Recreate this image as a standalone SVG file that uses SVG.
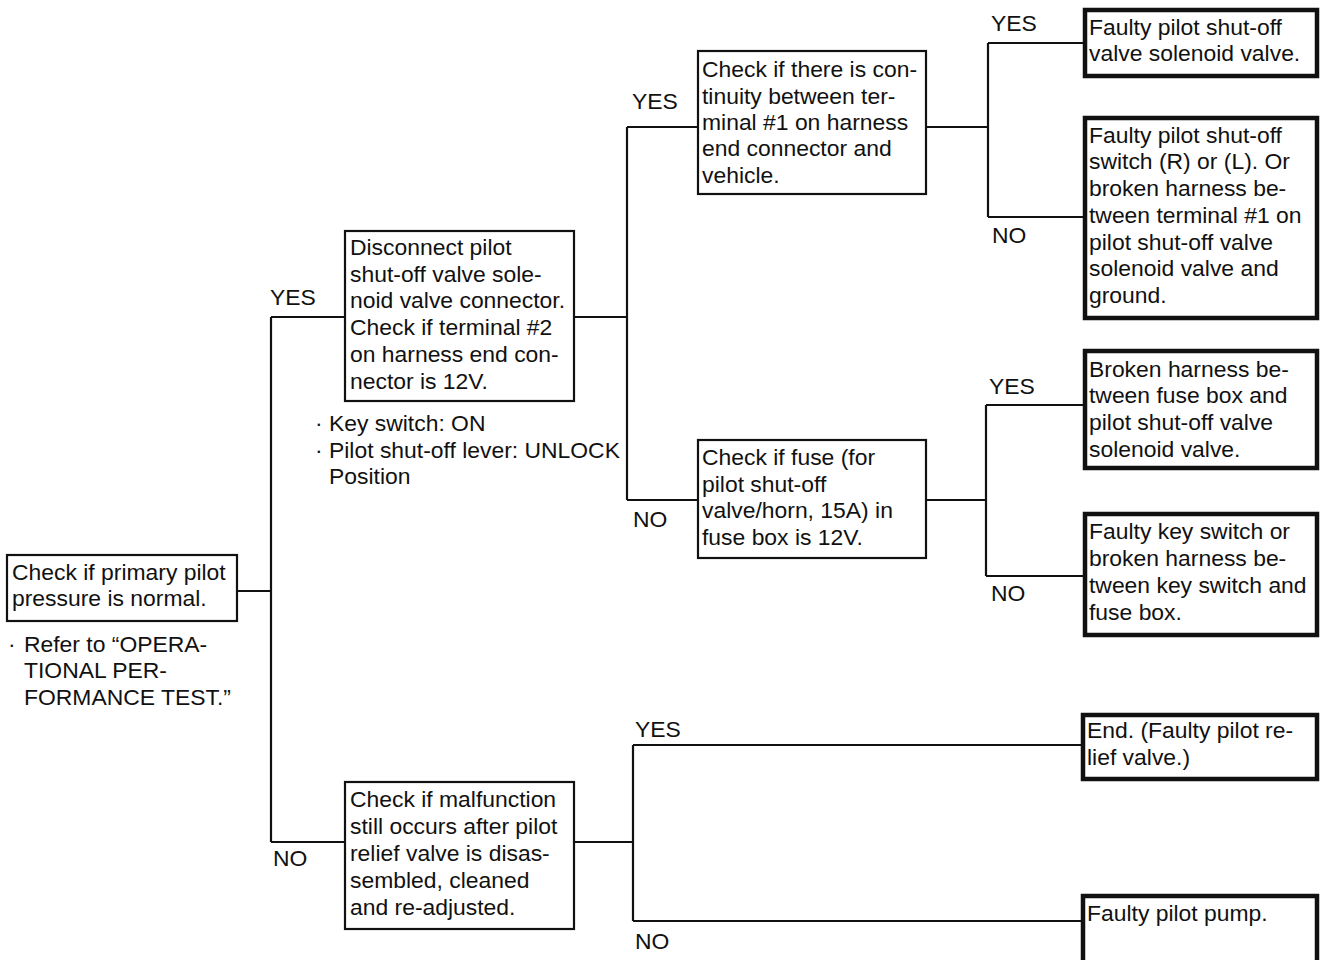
<svg xmlns="http://www.w3.org/2000/svg" width="1323" height="960" viewBox="0 0 1323 960">
<style>
text{font-family:"Liberation Sans",Arial,sans-serif;font-size:22.9px;fill:#111}
.box{fill:#fff;stroke:#111;stroke-width:2.2}
.end{fill:#fff;stroke:#111;stroke-width:4.5}
.ln{fill:none;stroke:#111;stroke-width:2.2}
</style>
<rect width="1323" height="960" fill="#fff"/>
<g id="connectors">
<path class="ln" d="M237,591H271M271,317V842M271,317H345M271,842H345"/>
<path class="ln" d="M574,317H627M627,127V500M627,127H698M627,500H698"/>
<path class="ln" d="M926,127H988M988,43V217M988,43H1083M988,217H1083"/>
<path class="ln" d="M926,500H986M986,405V576M986,405H1083M986,576H1083"/>
<path class="ln" d="M574,842H633M633,745V921M633,745H1081M633,921H1081"/>
<text x="270" y="305">YES</text>
<text x="273" y="866">NO</text>
<text x="632" y="109">YES</text>
<text x="633" y="527">NO</text>
<text x="991" y="31">YES</text>
<text x="992" y="243">NO</text>
<text x="989" y="394">YES</text>
<text x="991" y="601">NO</text>
<text x="635" y="737">YES</text>
<text x="635" y="949">NO</text>
</g>
<g id="n1">
<rect class="box" x="7" y="555" width="230" height="66"/>
<text x="12" y="580">Check if primary pilot</text>
<text x="12" y="606">pressure is normal.</text>
<text x="8" y="652">·</text><text x="24" y="652">Refer to “OPERA-</text>
<text x="24" y="678">TIONAL PER-</text>
<text x="24" y="705">FORMANCE TEST.”</text>
</g>
<g id="n2">
<rect class="box" x="345" y="231" width="229" height="170"/>
<text x="350" y="255">Disconnect pilot</text>
<text x="350" y="282">shut-off valve sole-</text>
<text x="350" y="308">noid valve connector.</text>
<text x="350" y="335">Check if terminal #2</text>
<text x="350" y="362">on harness end con-</text>
<text x="350" y="389">nector is 12V.</text>
<text x="315" y="431">·</text><text x="329" y="431">Key switch: ON</text>
<text x="315" y="458">·</text><text x="329" y="458">Pilot shut-off lever: UNLOCK</text>
<text x="329" y="484">Position</text>
</g>
<g id="n3">
<rect class="box" x="698" y="51" width="228" height="143"/>
<text x="702" y="77">Check if there is con-</text>
<text x="702" y="104">tinuity between ter-</text>
<text x="702" y="130">minal #1 on harness</text>
<text x="702" y="156">end connector and</text>
<text x="702" y="183">vehicle.</text>
</g>
<g id="n4">
<rect class="box" x="698" y="440" width="228" height="118"/>
<text x="702" y="465">Check if fuse (for</text>
<text x="702" y="492">pilot shut-off</text>
<text x="702" y="518">valve/horn, 15A) in</text>
<text x="702" y="545">fuse box is 12V.</text>
</g>
<g id="n5">
<rect class="box" x="345" y="782" width="229" height="147"/>
<text x="350" y="807">Check if malfunction</text>
<text x="350" y="834">still occurs after pilot</text>
<text x="350" y="861">relief valve is disas-</text>
<text x="350" y="888">sembled, cleaned</text>
<text x="350" y="915">and re-adjusted.</text>
</g>
<g id="e1">
<rect class="end" x="1085" y="10" width="232" height="66"/>
<text x="1089" y="35">Faulty pilot shut-off</text>
<text x="1089" y="61">valve solenoid valve.</text>
</g>
<g id="e2">
<rect class="end" x="1085" y="118" width="232" height="200"/>
<text x="1089" y="143">Faulty pilot shut-off</text>
<text x="1089" y="169">switch (R) or (L). Or</text>
<text x="1089" y="196">broken harness be-</text>
<text x="1089" y="223">tween terminal #1 on</text>
<text x="1089" y="250">pilot shut-off valve</text>
<text x="1089" y="276">solenoid valve and</text>
<text x="1089" y="303">ground.</text>
</g>
<g id="e3">
<rect class="end" x="1085" y="351" width="232" height="117"/>
<text x="1089" y="377">Broken harness be-</text>
<text x="1089" y="403">tween fuse box and</text>
<text x="1089" y="430">pilot shut-off valve</text>
<text x="1089" y="457">solenoid valve.</text>
</g>
<g id="e4">
<rect class="end" x="1085" y="514" width="232" height="121"/>
<text x="1089" y="539">Faulty key switch or</text>
<text x="1089" y="566">broken harness be-</text>
<text x="1089" y="593">tween key switch and</text>
<text x="1089" y="620">fuse box.</text>
</g>
<g id="e5">
<rect class="end" x="1083" y="715" width="234" height="64"/>
<text x="1087" y="738">End. (Faulty pilot re-</text>
<text x="1087" y="765">lief valve.)</text>
</g>
<g id="e6">
<rect class="end" x="1083" y="896" width="234" height="80"/>
<text x="1087" y="921">Faulty pilot pump.</text>
</g>
</svg>
